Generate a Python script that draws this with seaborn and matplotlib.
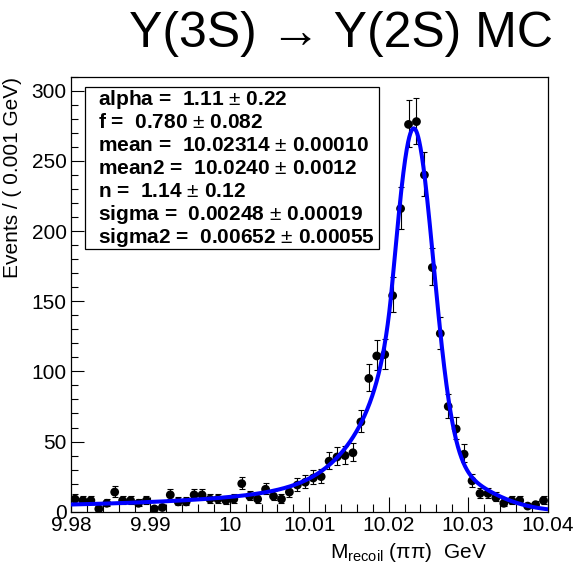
import numpy as np
import pandas as pd
import matplotlib
matplotlib.use("Agg")
import matplotlib.pyplot as plt
from matplotlib.ticker import MultipleLocator, FuncFormatter
from matplotlib.patches import Rectangle
import seaborn as sns

# Histogram of the recoil mass: 60 bins of 1 MeV between 9.98 and 10.04 GeV
bin_lo = 9.98
bin_hi = 10.04
bin_width = 0.001
counts = [9, 8, 8, 2, 6, 14, 8, 8, 6, 8,
          2, 3, 12, 7, 7, 12, 12, 9, 9, 8,
          9, 20, 11, 9, 16, 11, 9, 14, 19, 21,
          24, 25, 36, 39, 40, 42, 64, 95, 111, 112,
          154, 216, 276, 278, 240, 174, 127, 75, 59, 41,
          22, 13, 13, 10, 6, 8, 8, 4, 5, 8]

# Fit result: Crystal Ball (mean, sigma, alpha, n) + Gaussian (mean2, sigma2), CB fraction f
fit_names = ["alpha", "f", "mean", "mean2", "n", "sigma", "sigma2"]
fit_values = ["1.11", "0.780", "10.02314", "10.0240", "1.14", "0.00248", "0.00652"]
fit_errors = ["0.22", "0.082", "0.00010", "0.0012", "0.12", "0.00019", "0.00055"]

title_text = "Υ(3S) → Υ(2S) MC"
xlabel_text = r"M$_{\mathrm{recoil}}$ (ππ)  GeV"
ylabel_text = "Events / ( 0.001 GeV)"

par = {k: float(v) for k, v in zip(fit_names, fit_values)}

sns.set_theme(style="ticks")
plt.rcParams["font.family"] = ["Liberation Sans", "DejaVu Sans"]
plt.rcParams["mathtext.fontset"] = "custom"
plt.rcParams["mathtext.rm"] = "Liberation Sans"
plt.rcParams["mathtext.it"] = "Liberation Sans:italic"
plt.rcParams["mathtext.bf"] = "Liberation Sans:bold"

counts_arr = np.array(counts, dtype=float)
centers = bin_lo + bin_width * (np.arange(len(counts)) + 0.5)
# approximate 68% Poisson intervals
err_hi = np.sqrt(counts_arr + 0.25) + 0.5
err_lo = np.sqrt(counts_arr + 0.25) - 0.5
data = pd.DataFrame({"mass": centers, "events": counts_arr})


def crystal_ball(x, m, s, a, n):
    t = (x - m) / s
    A = (n / a) ** n * np.exp(-0.5 * a * a)
    B = n / a - a
    out = np.exp(-0.5 * t * t)
    tail = t <= -a
    out[tail] = A * (B - t[tail]) ** (-n)
    return out


def gauss(x, m, s):
    return np.exp(-0.5 * ((x - m) / s) ** 2)


xs = np.linspace(bin_lo, bin_hi, 2401)
cb = crystal_ball(xs, par["mean"], par["sigma"], par["alpha"], par["n"])
g = gauss(xs, par["mean2"], par["sigma2"])
pdf = par["f"] * cb / np.trapezoid(cb, xs) + (1 - par["f"]) * g / np.trapezoid(g, xs)
curve = pd.DataFrame({"mass": xs, "events": counts_arr.sum() * bin_width * pdf})

fig = plt.figure(figsize=(5.84, 5.72), dpi=100)
ax = fig.add_axes([0.1216, 0.1054, 0.8159, 0.7605])
ax.set_facecolor("white")

ax.errorbar(centers, counts_arr, yerr=[err_lo, err_hi], fmt="none",
            ecolor="black", elinewidth=0.8, capsize=2.0, capthick=0.8, zorder=2)
sns.scatterplot(data=data, x="mass", y="events", ax=ax, color="black",
                s=40, edgecolor="none", linewidth=0, zorder=3)
sns.lineplot(data=curve, x="mass", y="events", ax=ax, color="#0000ff",
             linewidth=2.9, zorder=4)

ax.set_xlim(bin_lo, bin_hi)
ax.set_ylim(0, 310)
ax.set_xlabel("")
ax.set_ylabel("")

ax.xaxis.set_major_locator(MultipleLocator(0.01))
ax.xaxis.set_minor_locator(MultipleLocator(0.002))
ax.yaxis.set_major_locator(MultipleLocator(50))
ax.yaxis.set_minor_locator(MultipleLocator(10))
ax.xaxis.set_major_formatter(FuncFormatter(lambda v, p: f"{round(v, 4):g}"))
ax.yaxis.set_major_formatter(FuncFormatter(lambda v, p: f"{v:g}"))

ax.tick_params(axis="both", which="both", direction="in", width=0.8,
               colors="black", labelsize=15, top=False, right=False)
ax.tick_params(axis="x", which="major", length=10.8, pad=3)
ax.tick_params(axis="x", which="minor", length=5.5)
ax.tick_params(axis="y", which="major", length=9.7, pad=3)
ax.tick_params(axis="y", which="minor", length=5.0)
for sp in ax.spines.values():
    sp.set_visible(True)
    sp.set_color("black")
    sp.set_linewidth(0.9)

# parameter box
ax.add_patch(Rectangle((0.0294, 0.6039), 0.6176, 0.3731, transform=ax.transAxes,
                       facecolor="white", edgecolor="black", linewidth=0.9, zorder=5))
for i, (nm, v, e) in enumerate(zip(fit_names, fit_values, fit_errors)):
    y_px = 105.0 + 23.05 * i
    ya = 1 - (y_px - 76.7) / 435.0
    ax.text(0.0573, ya, f"{nm} =  {v} $\\pm$ {e}", transform=ax.transAxes,
            fontsize=15, fontweight="bold", ha="left", va="baseline",
            color="black", zorder=6)

fig.text(341 / 584, 1 - 46.7 / 572, title_text, fontsize=36, ha="center",
         va="baseline", color="black")
fig.text(487 / 584, 1 - 558 / 572, xlabel_text, fontsize=15, ha="right",
         va="baseline", color="black")
fig.text(13 / 584, 1 - 77 / 572, ylabel_text, fontsize=15, rotation=90,
         ha="center", va="top", color="black")

fig.savefig("out.png", dpi=100, facecolor="white")
